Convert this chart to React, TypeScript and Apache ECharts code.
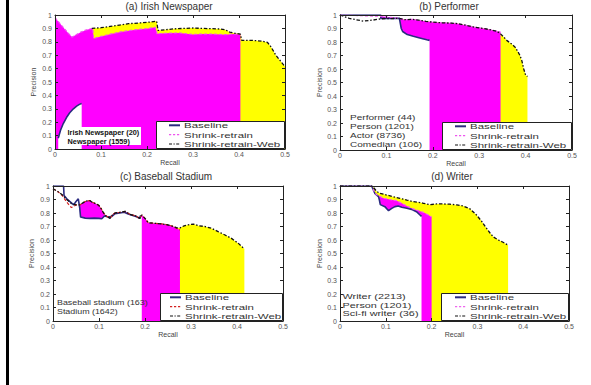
import React, { useEffect, useRef } from 'react';
import * as echarts from 'echarts';

// ---------- data ----------
const legendNames = ['Baseline', 'Shrink-retrain', 'Shrink-retrain-Web'];
const panelTitles = ['(a) Irish Newspaper', '(b) Performer', '(c) Baseball Stadium', '(d) Writer'];
const aNotes = ['Irish Newspaper (20)', 'Newspaper (1559)'];
const bNotes = ['Performer (44)', 'Person (1201)', 'Actor (8736)', 'Comedian (106)'];
const cNotes = ['Baseball stadium (163)', 'Stadium (1642)'];
const dNotes = ['Writer (2213)', 'Person (1201)', 'Sci-fi writer (36)'];

// (a) Irish Newspaper
const aBaseline = [[0.007,0.08],[0.012,0.14],[0.018,0.19],[0.025,0.235],[0.032,0.27],[0.04,0.3],[0.047,0.32],[0.053,0.333],[0.058,0.34]];
const aShrink = [[0,0.98],[0.01,0.94],[0.02,0.9],[0.03,0.86],[0.037,0.835],[0.045,0.85],[0.055,0.87],[0.065,0.885],[0.075,0.895],[0.082,0.9],[0.084,0.825],[0.1,0.84],[0.12,0.857],[0.14,0.872],[0.16,0.883],[0.18,0.892],[0.2,0.898],[0.218,0.908],[0.222,0.86],[0.25,0.865],[0.27,0.866],[0.3,0.855],[0.32,0.858],[0.34,0.858],[0.37,0.853],[0.39,0.858],[0.403,0.855]];
const aWeb = [[0.08,0.9],[0.1,0.905],[0.12,0.915],[0.14,0.925],[0.16,0.935],[0.18,0.94],[0.2,0.945],[0.221,0.953],[0.224,0.885],[0.24,0.89],[0.26,0.897],[0.28,0.9],[0.3,0.903],[0.32,0.9],[0.34,0.898],[0.36,0.895],[0.37,0.89],[0.38,0.872],[0.39,0.865],[0.403,0.858],[0.406,0.81],[0.43,0.81],[0.45,0.805],[0.462,0.795],[0.468,0.77],[0.475,0.73],[0.48,0.7],[0.487,0.67],[0.493,0.645],[0.5,0.615]];

// (b) Performer
const bBaseline = [[0,1],[0.088,1],[0.088,0.975],[0.128,0.975],[0.132,0.9],[0.135,0.878],[0.145,0.855],[0.158,0.842],[0.172,0.83],[0.187,0.817],[0.193,0.812]];
const bShrink = [[0,1],[0.088,0.99],[0.128,0.975],[0.14,0.965],[0.155,0.968],[0.17,0.962],[0.185,0.953],[0.2,0.947],[0.22,0.942],[0.24,0.94],[0.255,0.935],[0.27,0.925],[0.29,0.91],[0.31,0.9],[0.325,0.89],[0.338,0.88],[0.346,0.874]];
const bWeb = [[0,1],[0.02,0.975],[0.05,0.955],[0.07,0.962],[0.09,0.972],[0.128,0.975],[0.14,0.965],[0.155,0.968],[0.17,0.962],[0.185,0.953],[0.2,0.947],[0.22,0.942],[0.24,0.94],[0.255,0.935],[0.27,0.925],[0.29,0.91],[0.31,0.9],[0.325,0.89],[0.338,0.88],[0.346,0.86],[0.352,0.84],[0.36,0.81],[0.37,0.785],[0.378,0.76],[0.383,0.73],[0.388,0.7],[0.392,0.66],[0.396,0.6],[0.4,0.555],[0.404,0.545]];

// (c) Baseball Stadium
const cBaseline = [[0,1],[0.023,1],[0.024,0.93],[0.03,0.905],[0.04,0.875],[0.045,0.86],[0.05,0.885],[0.055,0.905],[0.058,0.84],[0.06,0.77],[0.07,0.762],[0.08,0.76],[0.09,0.762],[0.1,0.76],[0.106,0.757],[0.112,0.778],[0.12,0.77],[0.128,0.775],[0.135,0.795],[0.145,0.8],[0.155,0.805],[0.162,0.795],[0.17,0.785],[0.18,0.775],[0.188,0.76],[0.19,0.78],[0.193,0.775]];
const cShrink = [[0,0.98],[0.01,0.96],[0.02,0.93],[0.03,0.88],[0.04,0.84],[0.05,0.86],[0.058,0.86],[0.065,0.875],[0.07,0.885],[0.075,0.89],[0.08,0.892],[0.085,0.88],[0.09,0.873],[0.095,0.866],[0.1,0.855],[0.105,0.83],[0.11,0.8],[0.115,0.78],[0.124,0.76],[0.13,0.79],[0.135,0.8],[0.146,0.805],[0.157,0.812],[0.167,0.79],[0.18,0.778],[0.189,0.76],[0.193,0.785],[0.2,0.76],[0.207,0.728],[0.222,0.723],[0.236,0.72],[0.251,0.711],[0.262,0.7],[0.269,0.686],[0.276,0.674]];
const cWeb = [[0,0.98],[0.01,0.96],[0.02,0.935],[0.03,0.9],[0.04,0.87],[0.05,0.86],[0.058,0.86],[0.065,0.875],[0.07,0.885],[0.075,0.89],[0.08,0.892],[0.085,0.88],[0.09,0.873],[0.095,0.866],[0.1,0.855],[0.105,0.83],[0.11,0.8],[0.115,0.78],[0.124,0.76],[0.13,0.79],[0.135,0.8],[0.146,0.805],[0.157,0.812],[0.167,0.79],[0.18,0.778],[0.189,0.76],[0.193,0.785],[0.2,0.76],[0.207,0.728],[0.222,0.723],[0.236,0.72],[0.251,0.711],[0.262,0.7],[0.269,0.69],[0.276,0.69],[0.285,0.705],[0.294,0.712],[0.305,0.718],[0.316,0.706],[0.33,0.7],[0.345,0.686],[0.359,0.662],[0.374,0.637],[0.388,0.612],[0.403,0.575],[0.414,0.54],[0.416,0.535]];

// (d) Writer
const dBaseline = [[0,1],[0.069,1],[0.076,0.946],[0.084,0.921],[0.086,0.896],[0.088,0.862],[0.098,0.847],[0.106,0.817],[0.113,0.834],[0.12,0.847],[0.127,0.852],[0.135,0.842],[0.146,0.835],[0.156,0.827],[0.167,0.81],[0.174,0.787],[0.178,0.775]];
const dShrink = [[0,1],[0.069,1],[0.076,0.95],[0.08,0.935],[0.088,0.922],[0.095,0.91],[0.109,0.9],[0.124,0.891],[0.135,0.872],[0.146,0.852],[0.156,0.835],[0.167,0.822],[0.178,0.81],[0.186,0.798],[0.193,0.785],[0.198,0.775],[0.2,0.77]];
const dWeb = [[0,1],[0.069,1],[0.073,0.99],[0.08,0.96],[0.087,0.946],[0.102,0.933],[0.116,0.921],[0.131,0.909],[0.146,0.896],[0.16,0.884],[0.175,0.877],[0.182,0.872],[0.196,0.862],[0.211,0.867],[0.226,0.867],[0.24,0.865],[0.255,0.86],[0.269,0.852],[0.284,0.83],[0.298,0.785],[0.309,0.74],[0.317,0.7],[0.328,0.65],[0.335,0.622],[0.346,0.6],[0.355,0.585],[0.362,0.572],[0.367,0.562]];

// ---------- layout / style ----------
const FONT = '"Liberation Sans", Arial, Helvetica, sans-serif';
const GRIDS = [
  { left: 55, top: 15, width: 230, height: 134 },
  { left: 340, top: 15, width: 232, height: 135 },
  { left: 53, top: 186, width: 230, height: 135 },
  { left: 340, top: 186, width: 229, height: 135 },
];
const TITLE_POS = [[169, 6], [449, 6], [166, 176], [452, 176]];
const YNAME_GAP = [18.5, 15, 18, 17];
// legend box: width, sample start offset, text start offset
const LEGEND_BOX = [[129, 13, 28], [130, 13, 28], [123, 10, 25], [128, 14, 29]];
// note blocks: x, first line centre y, line step, font size, scaleX, bold
const NOTE_POS = [
  [67.5, 133, 8.3, 7.2, 1.02, true],
  [350, 117, 9, 7.8, 1.29, false],
  [57, 303, 8.5, 7.4, 1.2, false],
  [342.5, 296.7, 8.65, 7.5, 1.45, false],
];
const MAGENTA = '#ff00ff';
const YELLOW = '#ffff00';
const BLUE = '#2b2b80';
const PANELS = [
  { key: 'a', base: aBaseline, shrink: aShrink, web: aWeb, notes: aNotes, shrinkColor: '#ee55ee' },
  { key: 'b', base: bBaseline, shrink: bShrink, web: bWeb, notes: bNotes, shrinkColor: '#ee55ee' },
  { key: 'c', base: cBaseline, shrink: cShrink, web: cWeb, notes: cNotes, shrinkColor: '#d42020' },
  { key: 'd', base: dBaseline, shrink: dShrink, web: dWeb, notes: dNotes, shrinkColor: '#ee66ee' },
];
const WEB_DASH = [3.5, 1.8, 1.5, 1.8];
const SHRINK_DASH = [3, 2];

function buildOption() {
  const xAxis: any[] = [];
  const yAxis: any[] = [];
  const series: any[] = [];
  const graphic: any[] = [
    { type: 'rect', shape: { x: 6, y: 0, width: 3, height: 385 }, style: { fill: '#000' }, silent: true },
  ];
  const axisLine = { show: true, onZero: false, lineStyle: { color: '#222', width: 1 } };
  const axisTick = { show: true, inside: true, length: 3, lineStyle: { color: '#222', width: 1 } };

  PANELS.forEach((p, i) => {
    const xc = { type: 'value', gridIndex: i, min: 0, max: 0.5, interval: 0.1, z: 3, splitLine: { show: false }, axisLine, axisTick };
    xAxis.push({ ...xc, position: 'bottom', axisLabel: { fontSize: 7, color: '#555', margin: 2 }, name: 'Recall', nameLocation: 'middle', nameGap: 9.5, nameTextStyle: { fontSize: 7, color: '#444' } });
    xAxis.push({ ...xc, position: 'top', axisLabel: { show: false } });
    const yc = { type: 'value', gridIndex: i, min: 0, max: 1, interval: 0.1, z: 3, splitLine: { show: false }, axisLine, axisTick };
    yAxis.push({ ...yc, position: 'left', axisLabel: { fontSize: 7, color: '#555', margin: 3 }, name: 'Precision', nameLocation: 'middle', nameGap: YNAME_GAP[i], nameTextStyle: { fontSize: 7, color: '#444' } });
    yAxis.push({ ...yc, position: 'right', axisLabel: { show: false } });

    const ax = { xAxisIndex: 2 * i, yAxisIndex: 2 * i };
    const fill = (data: number[][], color: string) => ({
      type: 'line', ...ax, data, symbol: 'none', silent: true, z: 2,
      lineStyle: { width: 0, opacity: 0 }, areaStyle: { color, opacity: 1 },
    });
    series.push(fill(p.web, YELLOW));
    series.push(fill(p.shrink, MAGENTA));
    series.push(fill(p.base, '#ffffff'));
    series.push({ type: 'line', name: legendNames[0], ...ax, data: p.base, symbol: 'none', z: 2, silent: true,
      lineStyle: { color: BLUE, width: 1.6 } });
    series.push({ type: 'line', name: legendNames[1], ...ax, data: p.shrink, symbol: 'none', z: 2, silent: true,
      lineStyle: { color: p.shrinkColor, width: 1.2, type: SHRINK_DASH } });
    series.push({ type: 'line', name: legendNames[2], ...ax, data: p.web, symbol: 'none', z: 2, silent: true,
      lineStyle: { color: '#111', width: 1.3, type: WEB_DASH } });

    // legend box (drawn as graphics so its size matches the reference)
    const g = GRIDS[i];
    const [W, sOff, tOff] = LEGEND_BOX[i];
    const right = g.left + g.width;
    const bottom = g.top + g.height;
    const x0 = right - W;
    const y0 = bottom - 28;
    graphic.push({ type: 'rect', z: 10, silent: true, shape: { x: x0 + 0.5, y: y0 + 0.5, width: W - 1, height: 28 - 1 },
      style: { fill: '#fff', stroke: '#222', lineWidth: 1 } });
    const rows = [4.3, 13.7, 23];
    const sampleStyles = [
      { stroke: BLUE, lineWidth: 2 },
      { stroke: p.shrinkColor, lineWidth: 1.2, lineDash: [2.2, 1.8] },
      { stroke: '#111', lineWidth: 1.2, lineDash: [3, 1.5, 1.2, 1.5] },
    ];
    legendNames.forEach((n, k) => {
      const yy = y0 + rows[k];
      graphic.push({ type: 'line', z: 11, silent: true, shape: { x1: x0 + sOff, y1: yy, x2: x0 + sOff + 11, y2: yy }, style: sampleStyles[k] });
      graphic.push({ type: 'text', z: 11, silent: true, x: x0 + tOff, y: yy, scaleX: 1.42,
        style: { text: n, fontSize: 8.1, lineHeight: 9, fontFamily: FONT, fill: '#333', align: 'left', verticalAlign: 'middle' } });
    });

    // annotation notes
    const [nx, ny, step, fs, sx, bold] = NOTE_POS[i] as [number, number, number, number, number, boolean];
    if (i === 0) {
      graphic.push({ type: 'rect', shape: { x: 64, y: 127, width: 77, height: 18 }, style: { fill: '#fff' }, silent: true, z: 5 });
    }
    p.notes.forEach((t, k) => {
      graphic.push({ type: 'text', z: 6, silent: true, x: nx, y: ny + k * step, scaleX: sx,
        style: { text: t, fontSize: fs, lineHeight: step, fontWeight: bold ? 'bold' : 'normal', fontFamily: FONT,
          fill: bold ? '#111' : '#333', align: 'left', verticalAlign: 'middle' } });
    });
  });

  panelTitles.forEach((t, i) => {
    graphic.push({ type: 'text', x: TITLE_POS[i][0], y: TITLE_POS[i][1], silent: true,
      style: { text: t, fontSize: 10, fontFamily: FONT, fill: '#333', align: 'center', verticalAlign: 'middle' } });
  });

  return {
    animation: false,
    backgroundColor: '#fff',
    textStyle: { fontFamily: FONT },
    grid: GRIDS.map((g) => ({ ...g, show: false, containLabel: false })),
    xAxis, yAxis, series, graphic,
  };
}

export default function App() {
  const ref = useRef<HTMLDivElement>(null);
  useEffect(() => {
    if (!ref.current) return;
    const chart = echarts.init(ref.current, undefined, { renderer: 'svg' });
    chart.setOption(buildOption() as any);
    return () => chart.dispose();
  }, []);
  return <div ref={ref} style={{ position: 'fixed', left: 0, top: 0, width: 591, height: 385, background: '#fff' }} />;
}
